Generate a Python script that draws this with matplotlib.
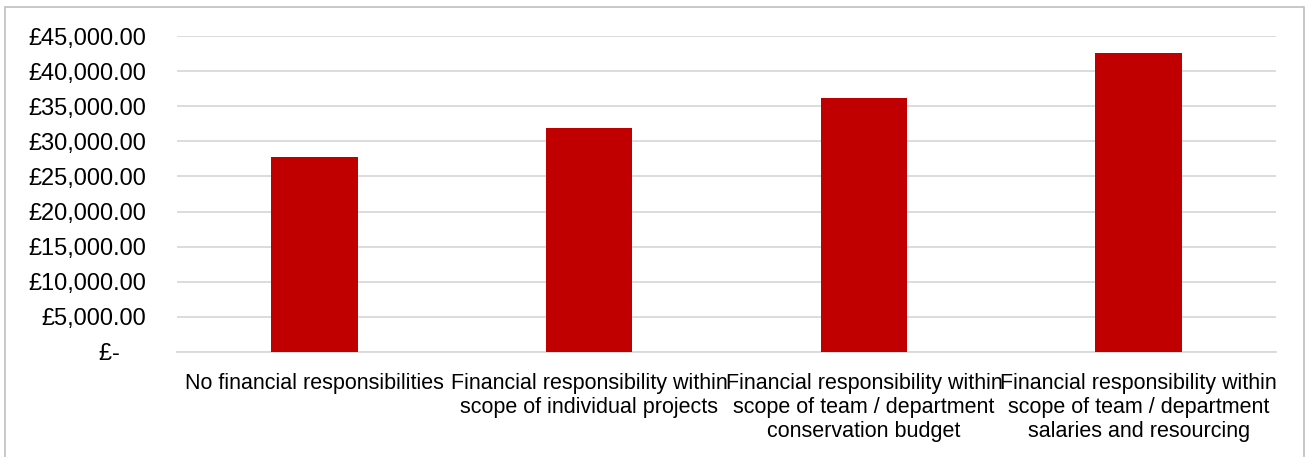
import numpy as np
import matplotlib
matplotlib.use("Agg")
import matplotlib.pyplot as plt
from matplotlib.patches import Rectangle
from matplotlib.ticker import FuncFormatter

categories = [
    "No financial responsibilities",
    "Financial responsibility within\nscope of individual projects",
    "Financial responsibility within\nscope of team / department\nconservation budget",
    "Financial responsibility within\nscope of team / department\nsalaries and resourcing",
]
salaries = [27770, 31900, 36130, 42540]
y_ticks = [0, 5000, 10000, 15000, 20000, 25000, 30000, 35000, 40000, 45000]

plt.rcParams['font.family'] = ['Liberation Sans', 'DejaVu Sans']

fig = plt.figure(figsize=(13.06, 4.57), dpi=100)
ax = fig.add_axes([177 / 1306, 1 - 352 / 457, (1276 - 177) / 1306, (352 - 36) / 457])

x = np.arange(len(categories))
ax.bar(x, salaries, width=0.315, color='#c00000', zorder=3)

ax.set_xlim(-0.5, len(categories) - 0.5)
ax.set_ylim(0, 45000)
ax.set_yticks(y_ticks)


def money(v, pos):
    if v == 0:
        return "£-    "
    return f"£{v:,.2f}"


ax.yaxis.set_major_formatter(FuncFormatter(money))
ax.set_xticks(x)
ax.set_xticklabels(categories, linespacing=1.19)

ax.tick_params(axis='y', length=0, pad=22, labelsize=17, labelcolor='#000000')
ax.tick_params(axis='x', length=0, pad=15, labelsize=15.5, labelcolor='#000000')

ax.grid(axis='y', color='#d9d9d9', linewidth=1.3, zorder=0)
for side in ['top', 'right', 'left']:
    ax.spines[side].set_visible(False)
ax.spines['bottom'].set_color('#d9d9d9')
ax.spines['bottom'].set_linewidth(1.3)

# light frame round the chart, open at the bottom like the source
fig.patches.append(Rectangle((4.5 / 1306, -0.1), (1303.5 - 4.5) / 1306, 1.1 - 7 / 457,
                             transform=fig.transFigure, fill=False,
                             edgecolor='#bfbfbf', linewidth=1.2))

fig.savefig("out.png", dpi=100)
